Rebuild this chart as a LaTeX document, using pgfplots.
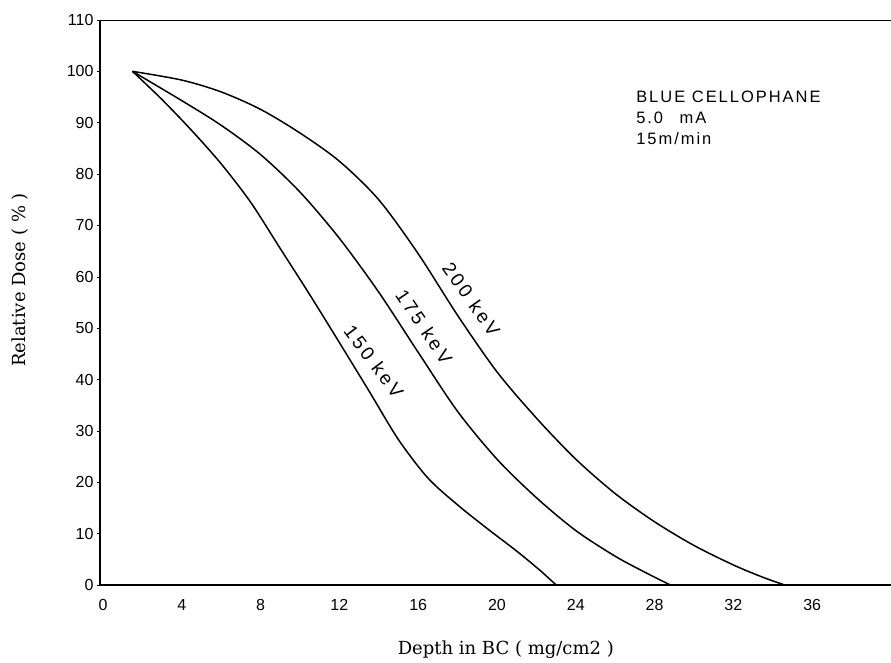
\documentclass[border=0pt]{standalone}
\usepackage{pgfplots}
\pgfplotsset{compat=1.18}
\usepackage{fontspec}
\setmainfont{Liberation Sans}
\newfontfamily\spaced[LetterSpace=12]{Liberation Sans}
\newfontfamily\curvefont[LetterSpace=16]{Liberation Sans}
\newfontfamily\labfont{DejaVu Serif}
\begin{document}
\begin{tikzpicture}
\begin{axis}[
  width=791pt, height=565pt, scale only axis,
  xmin=-0.15, xmax=40, ymin=0, ymax=110,
  axis line style={draw=none},
  xtick={0,4,...,36}, ytick={0,10,...,110},
  tick align=outside,
  major tick length=3pt,
  x tick style={draw=none},
  y tick style={black, line width=0.6pt},
  ticklabel style={font=\fontsize{16}{19}\selectfont},
  /pgf/number format/assume math mode=true,
  xticklabel style={yshift=-8pt},
  xlabel={Depth in BC ( mg/cm2 )},
  ylabel={Relative Dose ( \% )},
  label style={font=\labfont\fontsize{18}{21}\selectfont},
  xlabel style={at={(axis description cs:0.513,-0.115)}, anchor=center},
  ylabel style={at={(axis description cs:-0.101,0.54)}, anchor=center},
  clip=false,
]
\draw[line width=2pt] (rel axis cs:0,1) -- (rel axis cs:0,0) -- (rel axis cs:1,0);
\draw[line width=0.8pt] (rel axis cs:0,1) -- (rel axis cs:1,1);

\addplot[black, line width=1.5pt, smooth] coordinates {
(1.5,100) (3,94.5) (4.5,88.5) (6,82) (7.5,74.5) (9,65.5) (10.5,56.5) (12,47.2) (13.5,37.8) (15,28.3) (16.5,20.8) (18,15.6) (19.5,11) (21,6.6) (22.2,2.8) (23,0)
};
\addplot[black, line width=1.5pt, smooth] coordinates {
(1.5,100) (4,94.3) (6,89.5) (8,83.8) (10,76.5) (12,67.5) (14,57) (16,45.3) (18,33.8) (20,24.5) (22,17) (24,10.6) (26,5.6) (27.5,2.5) (28.8,0)
};
\addplot[black, line width=1.5pt, smooth] coordinates {
(1.5,100) (4,98.3) (6,96) (8,92.6) (10,88) (12,82.5) (14,75) (16,64.5) (18,52.5) (20,41.5) (22,32.5) (24,24.5) (26,17.8) (28,12.3) (30,7.7) (32,3.9) (33.5,1.5) (34.6,0)
};

\node[rotate=-55, font=\curvefont\fontsize{19}{21}\selectfont] at (axis cs:18.7,55.6) {200 keV};
\node[rotate=-56, font=\curvefont\fontsize{19}{21}\selectfont] at (axis cs:16.3,50.3) {175 keV};
\node[rotate=-53, font=\curvefont\fontsize{19}{21}\selectfont] at (axis cs:13.75,43.5) {150 keV};

\node[anchor=north west, align=left, inner sep=0pt, font=\spaced\fontsize{16.5}{21}\selectfont] at (axis cs:27.06,96.3) {BLUE CELLOPHANE\\5.0\quad mA\\15m/min};
\end{axis}
\path (current axis.south west) ++(-100pt,-78pt) coordinate (bl);
\path (current axis.north east) ++(0pt,20pt) coordinate (tr);
\pgfresetboundingbox
\path[use as bounding box] (bl) rectangle (tr);
\end{tikzpicture}
\end{document}
